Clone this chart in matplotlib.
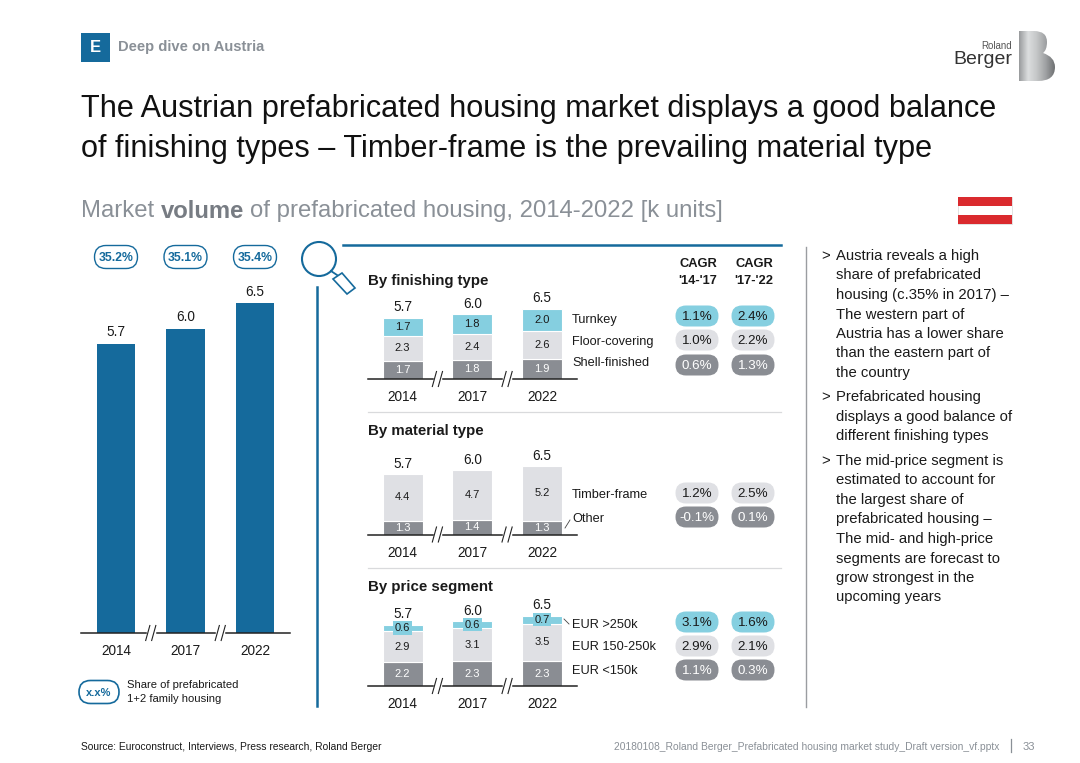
import numpy as np
import matplotlib
matplotlib.use("Agg")
import matplotlib.pyplot as plt
from matplotlib.colors import LinearSegmentedColormap
from matplotlib.patches import Circle, FancyBboxPatch, Polygon, PathPatch, Rectangle
from matplotlib.path import Path

plt.rcParams['font.family'] = ['Liberation Sans', 'DejaVu Sans']

years = ['2014', '2017', '2022']
totals = [5.7, 6.0, 6.5]
shares = ['35.2%', '35.1%', '35.4%']

finishing_names = ['Turnkey', 'Floor-covering', 'Shell-finished']
finishing_low = [1.7, 1.8, 1.9]
finishing_mid = [2.3, 2.4, 2.6]
finishing_top = [1.7, 1.8, 2.0]
finishing_cagr1 = ['1.1%', '1.0%', '0.6%']
finishing_cagr2 = ['2.4%', '2.2%', '1.3%']

material_names = ['Timber-frame', 'Other']
material_low = [1.3, 1.4, 1.3]
material_mid = [4.4, 4.7, 5.2]
material_cagr1 = ['1.2%', '-0.1%']
material_cagr2 = ['2.5%', '0.1%']

price_names = ['EUR >250k', 'EUR 150-250k', 'EUR <150k']
price_low = [2.2, 2.3, 2.3]
price_mid = [2.9, 3.1, 3.5]
price_top = [0.6, 0.6, 0.7]
price_cagr1 = ['3.1%', '2.9%', '1.1%']
price_cagr2 = ['1.6%', '2.1%', '0.3%']

bullets = [
    ['Austria reveals a high', 'share of prefabricated', 'housing (c.35% in 2017) –', 'The western part of',
     'Austria has a lower share', 'than the eastern part of', 'the country'],
    ['Prefabricated housing', 'displays a good balance of', 'different finishing types'],
    ['The mid-price segment is', 'estimated to account for', 'the largest share of', 'prefabricated housing –',
     'The mid- and high-price', 'segments are forecast to', 'grow strongest in the', 'upcoming years'],
]

BLUE = '#156A9C'
TEAL = '#85CFE0'
LIGHT = '#DFE0E4'
DARK = '#8A8D93'
TXT = '#1a1a1a'
W, H = 1080, 763

fig = plt.figure(figsize=(W / 100, H / 100), dpi=100)
bg = fig.add_axes([0, 0, 1, 1])
bg.set_xlim(0, W)
bg.set_ylim(H, 0)
bg.axis('off')


def chart_axes(x0, x1, base, px_unit):
    # axes placed in pixel coords, bars go on top of the page layer
    ymax = 7.0
    ax = fig.add_axes([x0 / W, 1 - base / H, (x1 - x0) / W, ymax * px_unit / H])
    ax.set_xlim(-0.5036, 2.5036)
    ax.set_ylim(0, ymax)
    ax.patch.set_alpha(0)
    for s in ['top', 'left', 'right']:
        ax.spines[s].set_visible(False)
    ax.spines['bottom'].set_linewidth(1.1)
    ax.spines['bottom'].set_color('#222222')
    ax.set_yticks([])
    ax.set_xticks(range(3))
    ax.set_xticklabels(years, fontsize=9.8, color=TXT)
    ax.tick_params(axis='x', length=0, pad=8)
    # axis breaks
    tick = 7.5 / px_unit
    for mid in [0.5, 1.5]:
        ax.plot([mid - 0.04, mid + 0.04], [0, 0], color='white', lw=2.5, clip_on=False, zorder=5)
        for dx in [-0.043, 0.043]:
            ax.plot([mid + dx - 0.03, mid + dx + 0.03], [-tick, tick], color='#222222',
                    lw=0.8, clip_on=False, zorder=6)
    return ax


def stacked(base, px_unit, gap, stacks, colors, label_colors):
    ax = chart_axes(367.5, 577, base, px_unit)
    x = np.arange(3)
    bottom = np.zeros(3)
    for vals, col, lc in zip(stacks, colors, label_colors):
        vals = np.array(vals)
        ax.bar(x, vals, 0.575, bottom=bottom, color=col, edgecolor='white', linewidth=0.8)
        for i in x:
            thin = vals[i] < 1
            ax.text(i, bottom[i] + vals[i] / 2, f'{vals[i]:.1f}', ha='center', va='center', fontsize=8, color=lc,
                    bbox=dict(boxstyle='square,pad=0.15', fc=col, ec='none') if thin else None)
        bottom = bottom + vals
    for i in x:
        ax.text(i, bottom[i] + gap, f'{totals[i]:.1f}', ha='center', va='bottom', fontsize=9.8, color=TXT)
    return ax


def pill(cx, cy, w, h, fc, ec='none', lw=0):
    r = h / 2
    bg.add_patch(FancyBboxPatch((cx - w / 2 + r, cy - h / 2 + r), w - 2 * r, h - 2 * r,
                                boxstyle=f'round,pad={r},rounding_size={r}', fc=fc, ec=ec, lw=lw))


def row_block(names, ys, pill_ys, cagr1, cagr2, colors, text_colors):
    for name, y, py, a, b, c, tc in zip(names, ys, pill_ys, cagr1, cagr2, colors, text_colors):
        bg.text(572, y + 1.5, name, ha='left', va='center', fontsize=9.2, color=TXT)
        for cx, val in [(697, a), (753, b)]:
            pill(cx, py, 43, 21, c)
            bg.text(cx, py + 1, val, ha='center', va='center', fontsize=9.6, color=tc)


# header
bg.add_patch(Rectangle((81, 33), 29, 29, fc=BLUE, ec='none'))
bg.text(95.5, 47.5, 'E', color='white', fontsize=12, weight='bold', ha='center', va='center')
bg.text(118, 47.5, 'Deep dive on Austria', color='#8a9097', fontsize=10.6, weight='bold', va='center')
bg.text(81, 109, 'The Austrian prefabricated housing market displays a good balance', fontsize=22.1, color='#111111', va='center')
bg.text(81, 149, 'of finishing types – Timber-frame is the prevailing material type', fontsize=22.1, color='#111111', va='center')
bg.text(81, 211, 'Market', fontsize=17.2, color='#8a9097', va='center')
bg.text(161, 211, 'volume', fontsize=17.2, color='#777c83', weight='bold', va='center')
bg.text(250, 211, 'of prefabricated housing, 2014-2022 [k units]', fontsize=17.2, color='#8a9097', va='center')

# logo
bg.text(1012, 46, 'Roland', fontsize=7, color='#555555', ha='right', va='center')
bg.text(1012, 60, 'Berger', fontsize=14, color='#333333', ha='right', va='center')
logo_cmap = LinearSegmentedColormap.from_list('logo', ['#9a9c9e', '#dcdedf', '#c4c6c7', '#9fa1a3', '#6f7173'])
grad = np.linspace(0, 1, 64).reshape(1, -1)
logo_im = bg.imshow(grad, extent=(1019, 1055, 81, 31), cmap=logo_cmap, aspect='auto', zorder=2)
codes = [Path.MOVETO, Path.LINETO, Path.CURVE3, Path.CURVE3, Path.CURVE3, Path.CURVE3, Path.CURVE3, Path.CURVE3,
         Path.CURVE3, Path.CURVE3, Path.LINETO, Path.CLOSEPOLY]
verts = [(1019, 31), (1034, 31), (1047, 31), (1047, 42), (1047, 50), (1043, 53), (1055, 57), (1055, 67),
         (1055, 81), (1038, 81), (1019, 81), (1019, 31)]
logo_clip = PathPatch(Path(verts, codes), fc='none', ec='none', transform=bg.transData)
bg.add_patch(logo_clip)
logo_im.set_clip_path(logo_clip)
bg.set_xlim(0, W)
bg.set_ylim(H, 0)

# flag
bg.add_patch(Rectangle((958, 197), 54, 27, fc='white', ec='#dddddd', lw=0.6))
bg.add_patch(Rectangle((958, 197), 54, 9, fc='#DA2A2E', ec='none'))
bg.add_patch(Rectangle((958, 215), 54, 9, fc='#DA2A2E', ec='none'))

# left chart
ax_main = chart_axes(81, 290, 633, 50.7)
ax_main.bar(range(3), totals, 0.56, color=BLUE)
for i, v in enumerate(totals):
    ax_main.text(i, v + 0.09, f'{v:.1f}', ha='center', va='bottom', fontsize=9.8, color=TXT)
for cx, s in zip([116, 185.5, 255], shares):
    pill(cx, 257, 43, 23, 'white', BLUE, 1.0)
    bg.text(cx, 258, s, ha='center', va='center', fontsize=8.8, weight='bold', color=BLUE)
pill(99, 692, 40, 23, 'white', BLUE, 1.2)
bg.text(99, 692.5, 'x.x%', ha='center', va='center', fontsize=8, weight='bold', color=BLUE)
bg.text(127, 684.5, 'Share of prefabricated', fontsize=8.1, va='center', color=TXT)
bg.text(127, 699.5, '1+2 family housing', fontsize=8.1, va='center', color=TXT)

# magnifier and rules
bg.add_patch(Circle((319, 259), 17, fc='none', ec=BLUE, lw=1.5))
bg.plot([331, 337], [271, 275], color=BLUE, lw=1.3)
bg.add_patch(Polygon([(333, 279), (342, 273), (355, 288), (347, 294)], closed=True, fc='white', ec=BLUE, lw=1.2))
bg.plot([317, 317], [287, 706], color=BLUE, lw=1.8)
bg.plot([343, 781], [245, 245], color=BLUE, lw=1.8)
bg.plot([368, 781], [412, 412], color='#d9dadc', lw=0.9)
bg.plot([368, 781], [568, 568], color='#d9dadc', lw=0.9)
bg.plot([806, 806], [247, 707], color='#9a9da1', lw=1)

# section titles
bg.text(368, 281.5, 'By finishing type', fontsize=10.8, weight='bold', va='center', color=TXT)
bg.text(368, 431.5, 'By material type', fontsize=10.8, weight='bold', va='center', color=TXT)
bg.text(368, 587.5, 'By price segment', fontsize=10.8, weight='bold', va='center', color=TXT)
for cx, a, b in [(698, 'CAGR', "'14-'17"), (754, 'CAGR', "'17-'22")]:
    bg.text(cx, 264, a, fontsize=9.3, weight='bold', ha='center', va='center', color=TXT)
    bg.text(cx, 281, b, fontsize=9.3, weight='bold', ha='center', va='center', color=TXT)

# stacked charts
stacked(379, 10.77, 0.36, [finishing_low, finishing_mid, finishing_top], [DARK, LIGHT, TEAL], ['white', TXT, TXT])
stacked(534.5, 10.6, 0.28, [material_low, material_mid], [DARK, LIGHT], ['white', TXT])
stacked(686, 10.77, 0.36, [price_low, price_mid, price_top], [DARK, LIGHT, TEAL], ['white', TXT, TXT])

row_block(finishing_names, [319, 341, 362], [316, 340, 365], finishing_cagr1, finishing_cagr2,
          [TEAL, LIGHT, DARK], [TXT, TXT, 'white'])
row_block(material_names, [493, 518], [493, 517], material_cagr1, material_cagr2, [LIGHT, DARK], [TXT, 'white'])
row_block(price_names, [624, 646, 670], [622, 646, 670], price_cagr1, price_cagr2,
          [TEAL, LIGHT, DARK], [TXT, TXT, 'white'])
bg.plot([565, 570], [528, 520], color='#444444', lw=0.6)
bg.plot([564, 569], [619, 624], color='#444444', lw=0.6)

# commentary
y_starts = [256, 397, 461]
for lines, y0 in zip(bullets, y_starts):
    bg.text(821, y0, '>', fontsize=10.7, va='center', color=TXT)
    for i, line in enumerate(lines):
        bg.text(836, y0 + i * 19.5, line, fontsize=10.7, va='center', color=TXT)

# footer
bg.text(81, 747, 'Source: Euroconstruct, Interviews, Press research, Roland Berger', fontsize=7.4, va='center', color=TXT)
bg.text(999, 747, '20180108_Roland Berger_Prefabricated housing market study_Draft version_vf.pptx', fontsize=7.4,
        ha='right', va='center', color='#8a9097')
bg.plot([1011, 1011], [739, 752], color='#8a9097', lw=0.9)
bg.text(1035, 747, '33', fontsize=8, ha='right', va='center', color='#8a9097')

fig.savefig('out.png', dpi=100)
